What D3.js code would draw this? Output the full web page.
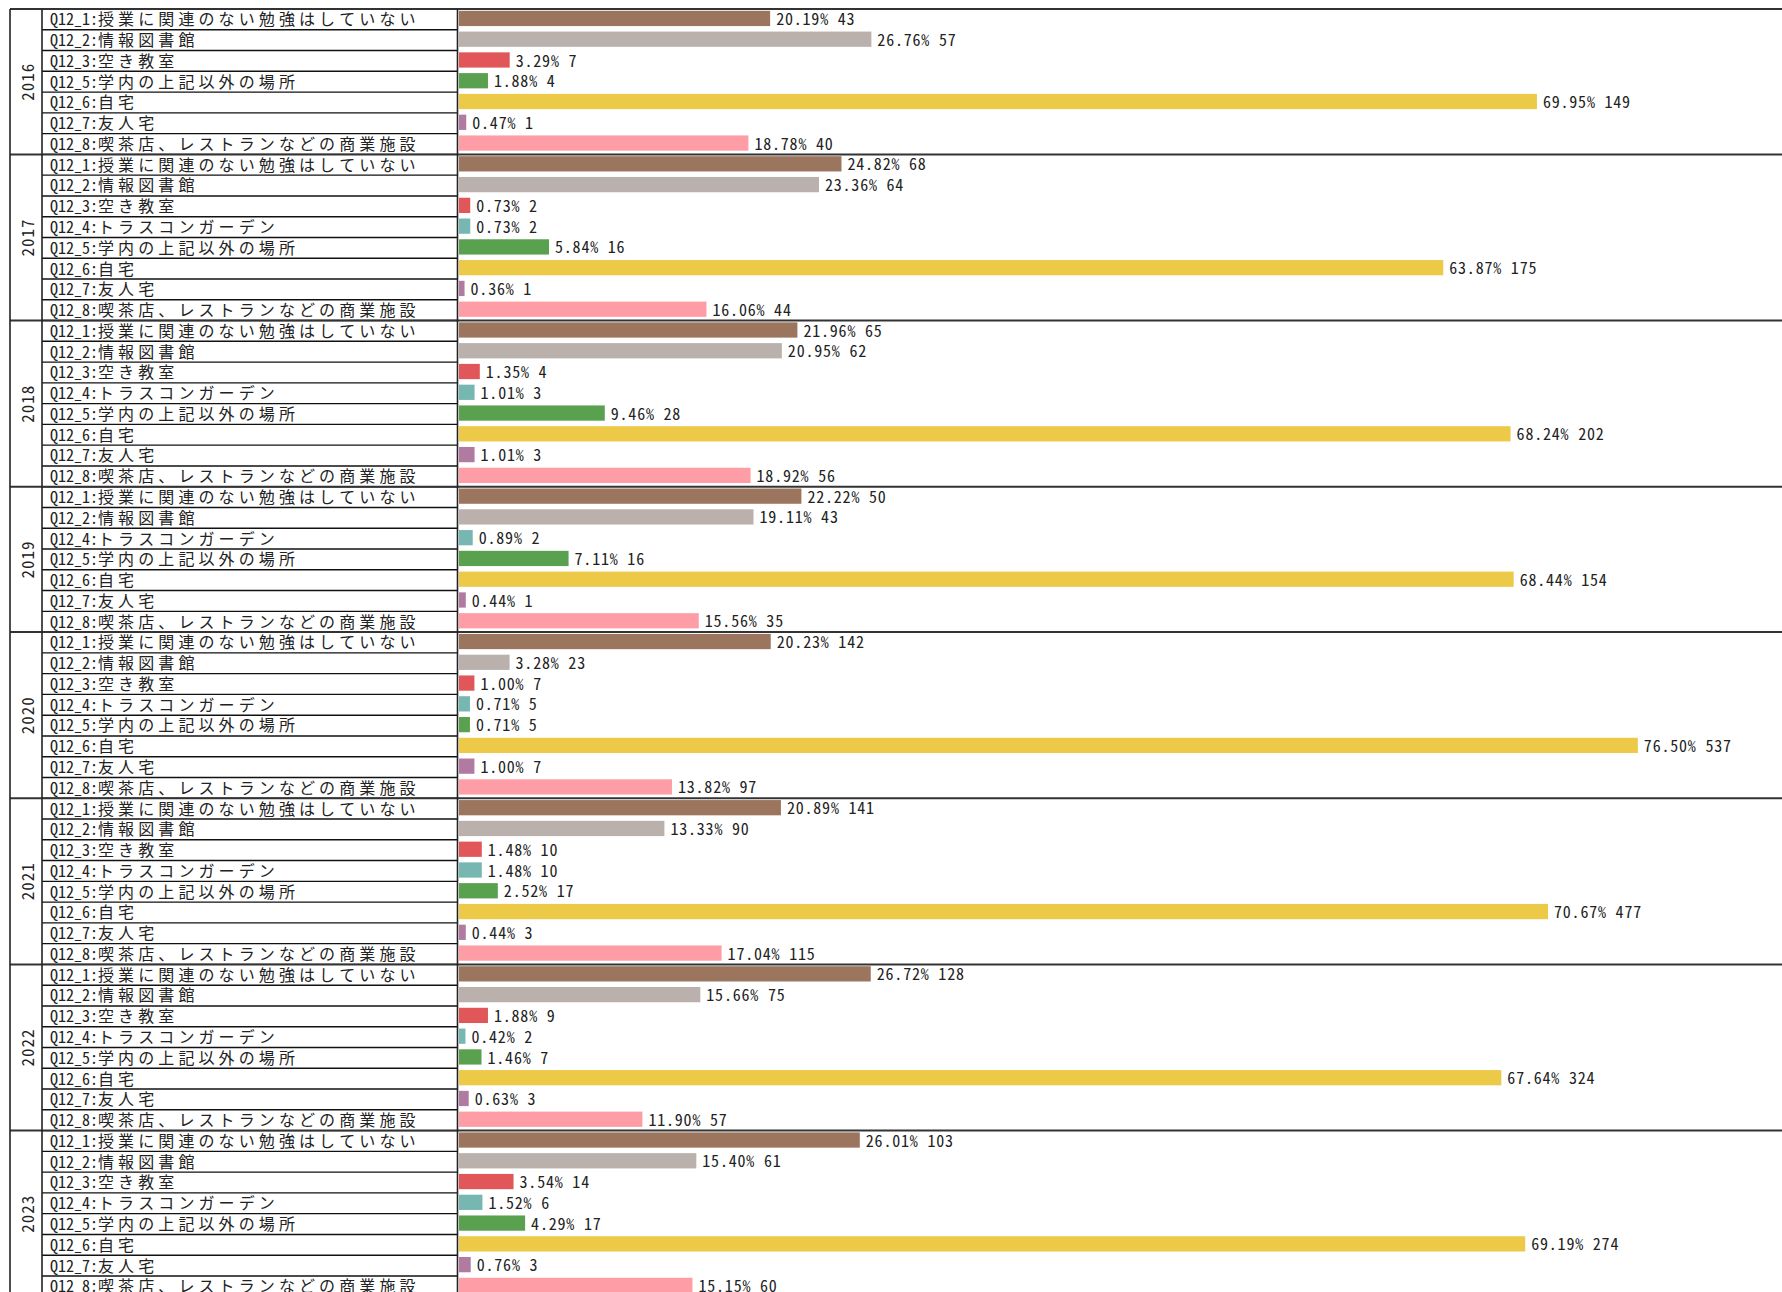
<!DOCTYPE html>
<html>
<head>
<meta charset="utf-8">
<script src="https://cdn.jsdelivr.net/npm/d3@7"></script>
<style>
  body { margin: 0; background: #fff; }
  svg { display: block; }
  text { font-family: "Noto Sans Mono CJK JP", "Noto Sans CJK JP", sans-serif; fill: #222; }
</style>
</head>
<body>
<svg id="chart" width="1782" height="1292"></svg>
<script>
// categories (code:name) and their colours
var catLabels = [
    "Q12_1:授業に関連のない勉強はしていない",
    "Q12_2:情報図書館",
    "Q12_3:空き教室",
    "Q12_4:トラスコンガーデン",
    "Q12_5:学内の上記以外の場所",
    "Q12_6:自宅",
    "Q12_7:友人宅",
    "Q12_8:喫茶店、レストランなどの商業施設"
];
var catColors = ["#9c755f", "#bab0ac", "#e15759", "#76b7b2", "#59a14f", "#edc948", "#b07aa1", "#ff9da7"];

var years = ["2016", "2017", "2018", "2019", "2020", "2021", "2022", "2023"];

// percent / count per year (null = category not present that year)
var pct2016 = [20.19, 26.76, 3.29, null, 1.88, 69.95, 0.47, 18.78];
var cnt2016 = [43, 57, 7, null, 4, 149, 1, 40];
var pct2017 = [24.82, 23.36, 0.73, 0.73, 5.84, 63.87, 0.36, 16.06];
var cnt2017 = [68, 64, 2, 2, 16, 175, 1, 44];
var pct2018 = [21.96, 20.95, 1.35, 1.01, 9.46, 68.24, 1.01, 18.92];
var cnt2018 = [65, 62, 4, 3, 28, 202, 3, 56];
var pct2019 = [22.22, 19.11, null, 0.89, 7.11, 68.44, 0.44, 15.56];
var cnt2019 = [50, 43, null, 2, 16, 154, 1, 35];
var pct2020 = [20.23, 3.28, 1.00, 0.71, 0.71, 76.50, 1.00, 13.82];
var cnt2020 = [142, 23, 7, 5, 5, 537, 7, 97];
var pct2021 = [20.89, 13.33, 1.48, 1.48, 2.52, 70.67, 0.44, 17.04];
var cnt2021 = [141, 90, 10, 10, 17, 477, 3, 115];
var pct2022 = [26.72, 15.66, 1.88, 0.42, 1.46, 67.64, 0.63, 11.90];
var cnt2022 = [128, 75, 9, 2, 7, 324, 3, 57];
var pct2023 = [26.01, 15.40, 3.54, 1.52, 4.29, 69.19, 0.76, 15.15];
var cnt2023 = [103, 61, 14, 6, 17, 274, 3, 60];

var pctByYear = [pct2016, pct2017, pct2018, pct2019, pct2020, pct2021, pct2022, pct2023];
var cntByYear = [cnt2016, cnt2017, cnt2018, cnt2019, cnt2020, cnt2021, cnt2022, cnt2023];

// flatten into rows
var rows = [];
var groups = [];
years.forEach(function(yr, yi) {
    var start = rows.length;
    pctByYear[yi].forEach(function(p, ci) {
        if (p === null) return;
        rows.push({key: yr + "|" + ci, year: yr, cat: ci, pct: p, cnt: cntByYear[yi][ci]});
    });
    groups.push({year: yr, first: rows[start].key, last: rows[rows.length - 1].key});
});

var chartW = 1782;
var topY = 9, rowH = 20.77;
var leftX = 10, yearRight = 42, labelRight = 457.5, barLeft = 459;

var svg = d3.select("#chart");

var y = d3.scaleBand()
    .domain(rows.map(function(d) { return d.key; }))
    .range([topY, topY + rows.length * rowH])
    .padding(0);

var x = d3.scaleLinear()
    .domain([0, 100])
    .range([barLeft, barLeft + 1541]);

// bars
svg.append("g").selectAll("rect")
    .data(rows)
    .enter().append("rect")
    .attr("x", x(0))
    .attr("y", function(d) { return y(d.key) + 1.8; })
    .attr("width", function(d) { return x(d.pct) - x(0); })
    .attr("height", y.bandwidth() * 0.735)
    .style("fill", function(d) { return catColors[d.cat]; });

// value labels
svg.append("g").selectAll("text")
    .data(rows)
    .enter().append("text")
    .attr("x", function(d) { return x(d.pct) + 6; })
    .attr("y", function(d) { return y(d.key) + 16; })
    .style("font-size", "16px")
    .style("letter-spacing", "0.8px")
    .text(function(d) { return d.pct.toFixed(2) + "% " + d.cnt; });

// row labels
var lab = svg.append("g").selectAll("text")
    .data(rows)
    .enter().append("text")
    .attr("x", 50)
    .attr("y", function(d) { return y(d.key) + 16.3; })
    .style("font-size", "16px");
lab.append("tspan")
    .text(function(d) { return catLabels[d.cat].split(":")[0] + ":"; });
lab.append("tspan")
    .style("letter-spacing", "4.1px")
    .text(function(d) { return catLabels[d.cat].split(":")[1]; });

// row separators (label column only)
svg.append("g").selectAll("line")
    .data(rows)
    .enter().append("line")
    .attr("x1", yearRight)
    .attr("x2", labelRight)
    .attr("y1", function(d) { return y(d.key) + y.bandwidth(); })
    .attr("y2", function(d) { return y(d.key) + y.bandwidth(); })
    .style("stroke", "#111")
    .style("stroke-width", 1.4);

// group separators (full width)
var gLines = [topY].concat(groups.map(function(g) { return y(g.last) + y.bandwidth(); }));
svg.append("g").selectAll("line")
    .data(gLines)
    .enter().append("line")
    .attr("x1", leftX)
    .attr("x2", chartW)
    .attr("y1", function(d) { return d; })
    .attr("y2", function(d) { return d; })
    .style("stroke", "#333")
    .style("stroke-width", 2);

// vertical borders
var bottomY = topY + rows.length * rowH;
[leftX, yearRight, labelRight].forEach(function(xx) {
    svg.append("line")
        .attr("x1", xx).attr("x2", xx)
        .attr("y1", topY).attr("y2", bottomY)
        .style("stroke", "#222")
        .style("stroke-width", 1.6);
});

// year labels
svg.append("g").selectAll("text")
    .data(groups)
    .enter().append("text")
    .attr("transform", function(g) {
        var cy = (y(g.first) + y(g.last) + y.bandwidth()) / 2;
        return "translate(26," + cy + ") rotate(-90)";
    })
    .attr("text-anchor", "middle")
    .attr("dominant-baseline", "central")
    .style("font-size", "17px")
    .style("letter-spacing", "1px")
    .text(function(g) { return g.year; });
</script>
</body>
</html>
